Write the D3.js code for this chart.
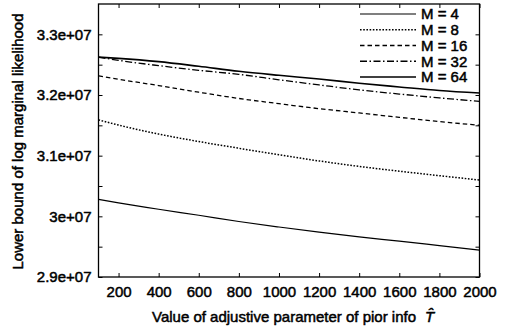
<!DOCTYPE html>
<html>
<head>
<meta charset="utf-8">
<script src="https://cdn.jsdelivr.net/npm/d3@7"></script>
<style>
  body { margin: 0; background: #fff; }
  svg text { font-family: "Liberation Sans", Arial, sans-serif; fill: #000; stroke: #000; stroke-width: 0.5px; }
</style>
</head>
<body>
<svg id="chart" width="509" height="333"></svg>
<script>
// values of the adjustive parameter T-hat
var tValues = [100, 200, 400, 600, 800, 1000, 1200, 1400, 1600, 1800, 2000];

// lower bound of log marginal likelihood for each M
var m4  = [3.0281e7, 3.0223e7, 3.0117e7, 3.0018e7, 2.9915e7, 2.9824e7, 2.9739e7, 2.9660e7, 2.9591e7, 2.9517e7, 2.9443e7];
var m8  = [3.1590e7, 3.1504e7, 3.1356e7, 3.1233e7, 3.1122e7, 3.1016e7, 3.0913e7, 3.0823e7, 3.0744e7, 3.0670e7, 3.0598e7];
var m16 = [3.2317e7, 3.2259e7, 3.2156e7, 3.2046e7, 3.1943e7, 3.1857e7, 3.1775e7, 3.1704e7, 3.1632e7, 3.1562e7, 3.1501e7];
var m32 = [3.2624e7, 3.2571e7, 3.2484e7, 3.2407e7, 3.2340e7, 3.2251e7, 3.2166e7, 3.2084e7, 3.2016e7, 3.1952e7, 3.1895e7];
var m64 = [3.2624e7, 3.2604e7, 3.2550e7, 3.2473e7, 3.2391e7, 3.2325e7, 3.2264e7, 3.2194e7, 3.2133e7, 3.2074e7, 3.2033e7];

var seriesNames = ["M = 4", "M = 8", "M = 16", "M = 32", "M = 64"];

var xTicks = [200, 400, 600, 800, 1000, 1200, 1400, 1600, 1800, 2000];
var yTicks = [2.9e7, 2.95e7, 3.0e7, 3.05e7, 3.1e7, 3.15e7, 3.2e7, 3.25e7, 3.3e7];
var yTickLabels = ["2.9e+07", "", "3e+07", "", "3.1e+07", "", "3.2e+07", "", "3.3e+07"];

var series = [
  {name: seriesNames[0], values: m4,  dash: null,            width: 1.2},
  {name: seriesNames[1], values: m8,  dash: "1.6,1.6",       width: 1.5},
  {name: seriesNames[2], values: m16, dash: "4.5,3",         width: 1.3},
  {name: seriesNames[3], values: m32, dash: "7,2.5,1.5,2.5", width: 1.3},
  {name: seriesNames[4], values: m64, dash: null,            width: 1.6}
];

var svg = d3.select("#chart");
var plotLeft = 98.5, plotRight = 479.5, plotTop = 4, plotBottom = 277;

var x = d3.scaleLinear().domain([100, 2000]).range([plotLeft, plotRight]);
var y = d3.scaleLinear().domain([2.9e7, 3.35e7]).range([plotBottom, plotTop]);

function styleAxis(g) {
  g.select(".domain").remove();
  g.selectAll(".tick line").attr("stroke", "#000").attr("stroke-width", 1);
  g.selectAll(".tick text").style("font-size", "15px");
}

// bottom and top
svg.append("g")
    .attr("transform", "translate(0," + plotBottom + ")")
    .call(d3.axisBottom(x).tickValues(xTicks).tickFormat(d3.format("d")).tickSizeInner(-4).tickSizeOuter(0).tickPadding(9))
    .call(styleAxis);
svg.append("g")
    .attr("transform", "translate(0," + plotTop + ")")
    .call(d3.axisTop(x).tickValues(xTicks).tickFormat("").tickSizeInner(-4).tickSizeOuter(0))
    .call(styleAxis);

// left and right
svg.append("g")
    .attr("transform", "translate(" + plotLeft + ",0)")
    .call(d3.axisLeft(y).tickValues(yTicks).tickFormat(function(d, i) { return yTickLabels[i]; }).tickSizeInner(-4).tickSizeOuter(0).tickPadding(7))
    .call(styleAxis);
svg.append("g")
    .attr("transform", "translate(" + plotRight + ",0)")
    .call(d3.axisRight(y).tickValues(yTicks).tickFormat("").tickSizeInner(-4).tickSizeOuter(0))
    .call(styleAxis);

// frame
svg.append("rect")
    .attr("x", plotLeft).attr("y", plotTop)
    .attr("width", plotRight - plotLeft).attr("height", plotBottom - plotTop)
    .attr("fill", "none").attr("stroke", "#000").attr("stroke-width", 1.3);

var line = d3.line()
    .x(function(d, i) { return x(tValues[i]); })
    .y(function(d) { return y(d); })
    .curve(d3.curveMonotoneX);

svg.selectAll(".series")
  .data(series)
  .enter().append("path")
    .attr("class", "series")
    .attr("d", function(d) { return line(d.values); })
    .attr("fill", "none")
    .attr("stroke", "#000")
    .attr("stroke-width", function(d) { return d.width; })
    .attr("stroke-dasharray", function(d) { return d.dash; });

// legend
var legend = svg.selectAll(".legend")
  .data(series)
  .enter().append("g")
    .attr("class", "legend")
    .attr("transform", function(d, i) { return "translate(360," + (14 + i * 15.75) + ")"; });

legend.append("line")
    .attr("x1", 0).attr("x2", 56)
    .attr("stroke", "#000")
    .attr("stroke-width", function(d) { return d.width; })
    .attr("stroke-dasharray", function(d) { return d.dash; });

legend.append("text")
    .attr("x", 61)
    .attr("dy", "0.36em")
    .style("font-size", "15px")
    .text(function(d) { return d.name; });

// axis titles
var xTitle = svg.append("text")
    .attr("x", 152)
    .attr("y", 321.5)
    .style("font-size", "15px");
xTitle.append("tspan").text("Value of adjustive parameter of pior info");
xTitle.append("tspan")
    .attr("dx", 9)
    .style("font-style", "italic")
    .text("T\u0302");

svg.append("text")
    .attr("transform", "translate(23," + ((plotTop + plotBottom) / 2 + 1) + ") rotate(-90)")
    .attr("text-anchor", "middle")
    .style("font-size", "15px")
    .text("Lower bound of log marginal likelihood");
</script>
</body>
</html>
